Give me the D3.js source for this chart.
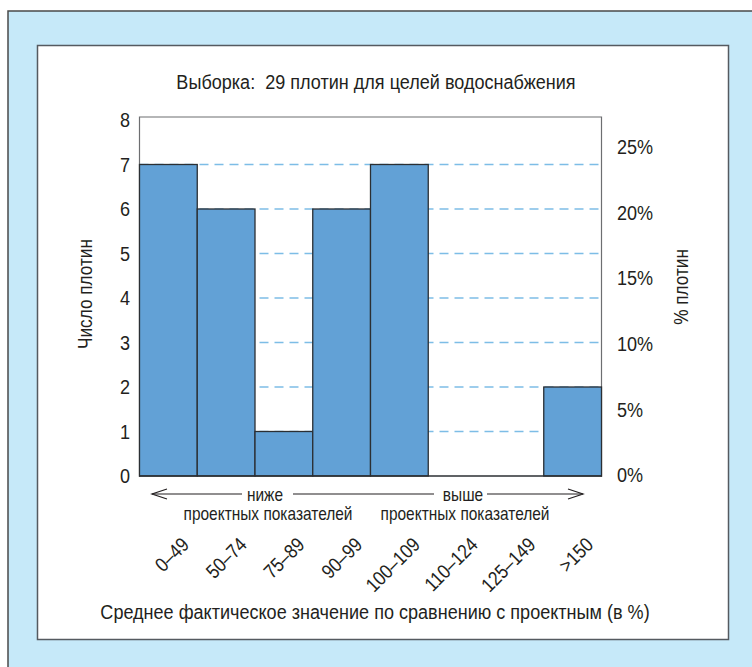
<!DOCTYPE html>
<html>
<head>
<meta charset="utf-8">
<script src="https://cdn.jsdelivr.net/npm/d3@7"></script>
<style>
  html, body { margin: 0; padding: 0; background: #ffffff; }
  svg { display: block; }
  text { font-family: "Liberation Sans", Arial, sans-serif; fill: #231f20; white-space: pre; }
</style>
</head>
<body>
<svg id="chart" width="752" height="667"></svg>
<script>
const categories = ["0–49", "50–74", "75–89", "90–99", "100–109", "110–124", "125–149", ">150"];
const counts = [7, 6, 1, 6, 7, 0, 0, 2];
const leftTicks = [0, 1, 2, 3, 4, 5, 6, 7, 8];
const rightTicks = [0, 5, 10, 15, 20, 25];
const gridValues = [1, 2, 3, 4, 5, 6, 7];
const titleText = "Выборка:  29 плотин для целей водоснабжения";
const yLeftLabel = "Число плотин";
const yRightLabel = "% плотин";
const xTitle = "Среднее фактическое значение по сравнению с проектным (в %)";
const belowLabel = ["ниже", "проектных показателей"];
const aboveLabel = ["выше", "проектных показателей"];

const svg = d3.select("#chart");
const W = 752, H = 667;
const SX = 0.86; // horizontal condensing to mimic a condensed typeface

function ctext(x, y, str, size, anchor, rot) {
  return svg.append("text")
    .attr("transform", `translate(${x},${y})` + (rot ? ` rotate(${rot})` : "") + ` scale(${SX},1)`)
    .attr("text-anchor", anchor || "middle")
    .attr("font-size", size)
    .text(str);
}

// backgrounds
svg.append("rect").attr("x", 0).attr("y", 0).attr("width", W).attr("height", H).attr("fill", "#ffffff");
svg.append("rect").attr("x", 8).attr("y", 11).attr("width", W).attr("height", H)
  .attr("fill", "#c6e9f9").attr("stroke", "#4a4a4a").attr("stroke-width", 1.5);
svg.append("rect").attr("x", 37.5).attr("y", 45.5).attr("width", 691).attr("height", 594)
  .attr("fill", "#ffffff").attr("stroke", "#555a60").attr("stroke-width", 1.5);

const plot = { left: 139.5, right: 601.5, top: 117, bottom: 477 };

const x = d3.scaleBand().domain(categories).range([plot.left, plot.right]).padding(0);
const y = d3.scaleLinear().domain([0, 8]).range([476, 120]);
const yPct = d3.scaleLinear().domain([0, 25]).range([475, 147]);

// title
ctext(376, 89, titleText, 21);

// grid lines
svg.append("g").selectAll("line").data(gridValues).join("line")
  .attr("x1", plot.left).attr("x2", plot.right)
  .attr("y1", d => y(d)).attr("y2", d => y(d))
  .attr("stroke", "#7dbde6").attr("stroke-width", 1.4)
  .attr("stroke-dasharray", "9,6");

// frame
svg.append("path")
  .attr("d", `M${plot.left},${plot.bottom}V${plot.top}H${plot.right}V${plot.bottom}`)
  .attr("fill", "none").attr("stroke", "#6d6e71").attr("stroke-width", 1.2);

// bars
svg.append("g").selectAll("rect").data(categories.map((c, i) => ({ c, v: counts[i] })).filter(d => d.v > 0))
  .join("rect")
  .attr("x", d => x(d.c)).attr("width", x.bandwidth())
  .attr("y", d => y(d.v)).attr("height", d => y(0) - y(d.v))
  .attr("fill", "#62a1d6").attr("stroke", "#2b2f33").attr("stroke-width", 1.3);

// left axis
const leftAxis = d3.axisLeft(y).tickValues(leftTicks).tickSize(0).tickPadding(11);
const gl = svg.append("g").attr("transform", `translate(${plot.left},0)`).call(leftAxis);
gl.select(".domain").remove();
gl.selectAll("text").attr("font-size", 21).attr("font-family", "Liberation Sans, sans-serif")
  .attr("fill", "#231f20").attr("transform", `scale(${SX},1)`);

// bottom baseline
svg.append("line").attr("x1", plot.left).attr("x2", plot.right)
  .attr("y1", y(0)).attr("y2", y(0))
  .attr("stroke", "#2b2f33").attr("stroke-width", 1.3);

// right axis
const rightAxis = d3.axisRight(yPct).tickValues(rightTicks).tickSize(0).tickPadding(18).tickFormat(d => d + "%");
const gr = svg.append("g").attr("transform", `translate(${plot.right},0)`).call(rightAxis);
gr.select(".domain").remove();
gr.selectAll("text").attr("font-size", 21).attr("font-family", "Liberation Sans, sans-serif")
  .attr("fill", "#231f20").attr("transform", `scale(${SX},1)`);

// axis labels
ctext(92, 294, yLeftLabel, 20, "middle", -90);
ctext(688, 287, yRightLabel, 20, "middle", -90);

// arrows row
const arrowY = 494;
const arrowG = svg.append("g").attr("stroke", "#231f20").attr("stroke-width", 1.2).attr("fill", "none");
arrowG.append("line").attr("x1", 152).attr("x2", 242).attr("y1", arrowY).attr("y2", arrowY);
arrowG.append("line").attr("x1", 293).attr("x2", 434).attr("y1", arrowY).attr("y2", arrowY);
arrowG.append("line").attr("x1", 487).attr("x2", 583).attr("y1", arrowY).attr("y2", arrowY);
arrowG.append("path").attr("d", `M${167},${arrowY - 5}L152,${arrowY}L${167},${arrowY + 5}`);
arrowG.append("path").attr("d", `M${568},${arrowY - 5}L583,${arrowY}L${568},${arrowY + 5}`);

ctext(265, arrowY + 7, belowLabel[0], 18);
ctext(268, 520, belowLabel[1], 18);
ctext(463, arrowY + 7, aboveLabel[0], 18);
ctext(465, 520, aboveLabel[1], 18);

// rotated category labels
svg.append("g").selectAll("text").data(categories).join("text")
  .attr("transform", d => `translate(${x(d) + x.bandwidth() / 2 + 22},${546}) rotate(-45) scale(${SX},1)`)
  .attr("text-anchor", "end").attr("font-size", 20).text(d => d);

// x title
ctext(375, 619, xTitle, 21);
</script>
</body>
</html>
